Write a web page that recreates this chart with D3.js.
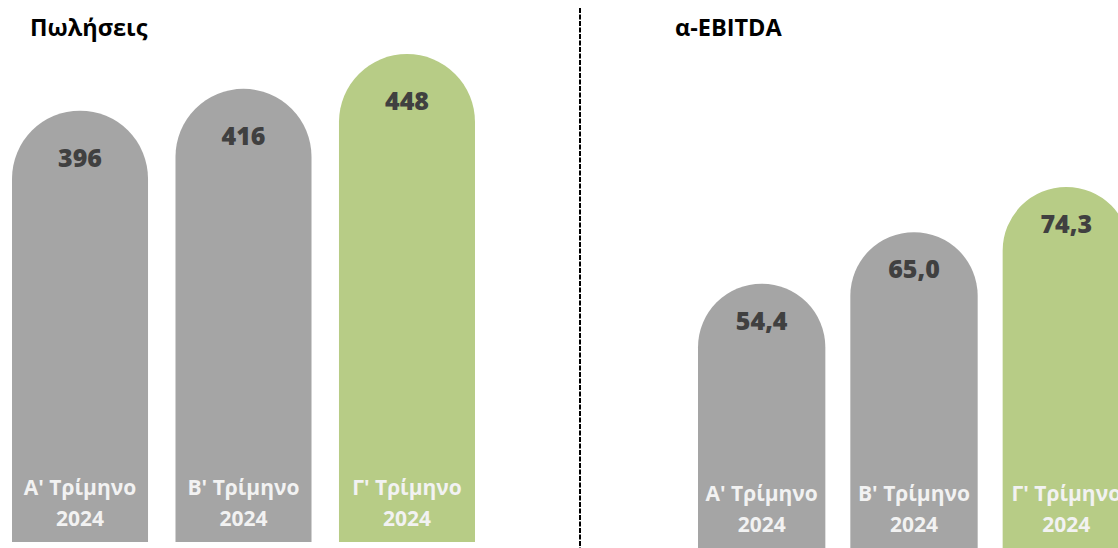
<!DOCTYPE html>
<html>
<head>
<meta charset="utf-8">
<script src="https://cdn.jsdelivr.net/npm/d3@7"></script>
<style>
  html, body { margin: 0; padding: 0; background: #fff; }
  svg { display: block; font-family: "Open Sans", "DejaVu Sans", sans-serif; }
</style>
</head>
<body>
<div id="chart"></div>
<script>
// data
const quarters = ["Α' Τρίμηνο", "Β' Τρίμηνο", "Γ' Τρίμηνο"];
const year = '2024';
const salesValues = [396, 416, 448];
const ebitdaValues = [54.4, 65.0, 74.3];
const barColors = ['#a5a5a5', '#a5a5a5', '#b7cc86'];

const width = 1118, height = 548;

const svg = d3.select('#chart')
  .append('svg')
  .attr('width', width)
  .attr('height', height);

// greek number format: comma as decimal separator
const grLocale = d3.formatLocale({ decimal: ',', thousands: '.', grouping: [3], currency: ['€', ''] });

// rounded-top bar (semicircle cap), bottom flat
const capBar = (x, w, yTop, yBottom) => {
  const r = w / 2;
  const p = d3.path();
  p.moveTo(x, yBottom);
  p.lineTo(x, yTop + r);
  p.arc(x + r, yTop + r, r, Math.PI, 0);
  p.lineTo(x + w, yBottom);
  p.closePath();
  return p.toString();
};

const drawPanel = (opts) => {
  const g = svg.append('g').attr('class', 'panel');

  const x = d3.scaleBand()
    .domain(quarters)
    .range(opts.xRange)
    .paddingInner(opts.padding)
    .paddingOuter(0);

  const y = d3.scaleLinear()
    .domain([0, d3.max(opts.values)])
    .range(opts.yRange);

  const rows = quarters.map((q, i) => ({ q, v: opts.values[i], c: barColors[i] }));

  g.selectAll('path.bar')
    .data(rows)
    .enter()
    .append('path')
    .attr('class', 'bar')
    .attr('fill', d => d.c)
    .attr('d', d => capBar(x(d.q), x.bandwidth(), y(d.v), y(0)));

  // value labels
  g.selectAll('text.value')
    .data(rows)
    .enter()
    .append('text')
    .attr('class', 'value')
    .attr('x', d => x(d.q) + x.bandwidth() / 2)
    .attr('y', d => y(d.v) + opts.labelOffset)
    .attr('text-anchor', 'middle')
    .attr('dominant-baseline', 'central')
    .attr('font-size', 25)
    .attr('font-weight', 800)
    .attr('fill', '#404040')
    .text(d => opts.format(d.v));

  // category labels inside bars
  const cat = g.selectAll('text.cat')
    .data(rows)
    .enter()
    .append('text')
    .attr('class', 'cat')
    .attr('text-anchor', 'middle')
    .attr('font-size', 21)
    .attr('font-weight', 700)
    .attr('fill', '#f2f2f2');
  cat.append('tspan')
    .attr('x', d => x(d.q) + x.bandwidth() / 2)
    .attr('y', y(0) - 55)
    .attr('dominant-baseline', 'central')
    .text(d => d.q);
  cat.append('tspan')
    .attr('x', d => x(d.q) + x.bandwidth() / 2)
    .attr('y', y(0) - 24)
    .attr('dominant-baseline', 'central')
    .text(year);

  // panel title
  g.append('text')
    .attr('x', opts.titleX)
    .attr('y', 27)
    .attr('dominant-baseline', 'central')
    .attr('font-size', 23.5)
    .attr('font-weight', 700)
    .attr('fill', '#000')
    .text(opts.title);
};

drawPanel({
  title: 'Πωλήσεις',
  titleX: 30,
  values: salesValues,
  xRange: [12, 475],
  padding: 0.168,
  yRange: [542, 54],
  labelOffset: 46,
  format: d3.format('d')
});

drawPanel({
  title: 'α-EBITDA',
  titleX: 675,
  values: ebitdaValues,
  xRange: [698, 1130],
  padding: 0.164,
  yRange: [548, 187],
  labelOffset: 36,
  format: grLocale.format('.1f')
});

// dashed divider
svg.append('line')
  .attr('x1', 580).attr('x2', 580)
  .attr('y1', 8).attr('y2', height)
  .attr('stroke', '#000')
  .attr('stroke-width', 2)
  .attr('stroke-dasharray', '5,1.5');
</script>
</body>
</html>
